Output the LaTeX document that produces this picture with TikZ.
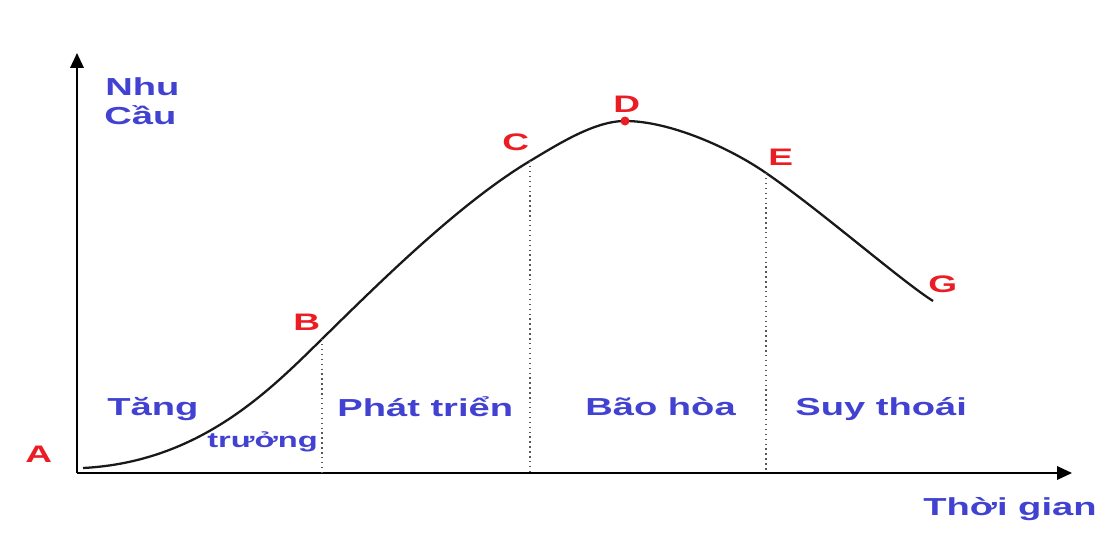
\documentclass[tikz,border=0pt]{standalone}
\usepackage{fontspec}
\setmainfont{Liberation Sans}
\usetikzlibrary{arrows.meta}
\definecolor{lblue}{RGB}{66,66,210}
\definecolor{lred}{RGB}{236,28,36}
\newcommand{\wide}[1]{\scalebox{1.55}[1]{#1}}
\begin{document}
\begin{tikzpicture}[x=0.02cm,y=-0.02cm,
 bl/.style={anchor=base west,inner sep=0,text=lblue,font=\bfseries\fontsize{14}{16}\selectfont},
 bls/.style={bl,font=\bfseries\fontsize{12}{14}\selectfont},
 rd/.style={anchor=base west,inner sep=0,text=lred,font=\bfseries\fontsize{13.6}{16}\selectfont},
 axis/.style={line width=1.1pt,-{Triangle[length=0.3cm,width=0.27cm]}},
 guide/.style={dotted,line width=0.8pt,gray!70!black},
 curve/.style={line width=1.3pt,black!90}]
\useasboundingbox (0,0) rectangle (1109,541);
\fill[white] (0,0) rectangle (1109,541);
\coordinate (O) at (77,473);
\coordinate (Ytip) at (77,53);
\coordinate (Xtip) at (1072,473);
\draw[axis] (O) -- (Ytip);
\draw[axis] (O) -- (Xtip);
% curve points
\coordinate (pA) at (83,468);
\coordinate (pB) at (322,339);
\coordinate (pC) at (530,161);
\coordinate (pD) at (625,121);
\coordinate (pE) at (766,173);
\coordinate (pG) at (933,301);
\draw[curve] (pA) .. controls (200,462) and (270,390) .. (pB)
  .. controls (382,280) and (460,203) .. (pC)
  .. controls (560,143) and (595,121) .. (pD)
  .. controls (670,121) and (730,148) .. (pE)
  .. controls (820,210) and (900,280) .. (pG);
% guides
\draw[guide] (pB) -- (pB |- O);
\draw[guide] (pC) -- (pC |- O);
\draw[guide] (pE) -- (pE |- O);
\fill[lred] (pD) circle (4.5);
% labels
\node[bl] (nhu) at (105,95) {\wide{Nhu}};
\node[bl] (cau) at (104,124) {\wide{Cầu}};
\node[bl] (thoigian) at (923,515) {\wide{Thời gian}};
\node[bl] (tang) at (107,415) {\wide{Tăng}};
\node[bls] (truong) at (207,447) {\wide{trưởng}};
\node[bl] (phattrien) at (337,416) {\wide{Phát triển}};
\node[bl] (baohoa) at (585,415) {\wide{Bão hòa}};
\node[bl] (suythoai) at (795,415) {\wide{Suy thoái}};
\node[rd] (lA) at (25,462) {\wide{A}};
\node[rd] (lB) at (293,330) {\wide{B}};
\node[rd] (lC) at (502,150) {\wide{C}};
\node[rd] (lD) at (613,112) {\wide{D}};
\node[rd] (lE) at (768,165) {\wide{E}};
\node[rd] (lG) at (928,292) {\wide{G}};
\end{tikzpicture}
\end{document}
